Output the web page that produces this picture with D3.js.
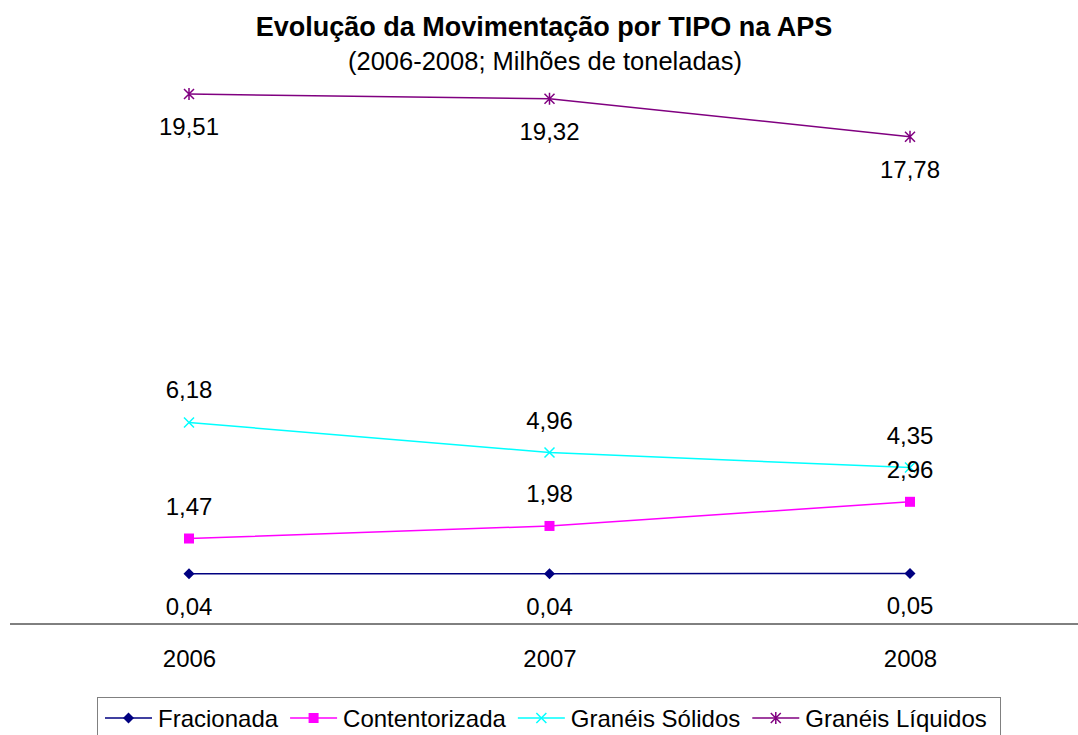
<!DOCTYPE html>
<html>
<head>
<meta charset="utf-8">
<script src="https://cdn.jsdelivr.net/npm/d3@7"></script>
<style>
body { margin: 0; background: #fff; }
text { font-family: "Liberation Sans", Arial, sans-serif; fill: #000; }
</style>
</head>
<body>
<div id="chart"></div>
<script>
var years = ["2006", "2007", "2008"];
var seriesNames = ["Fracionada", "Contentorizada", "Granéis Sólidos", "Granéis Líquidos"];
var fracionada = [0.04, 0.04, 0.05];
var contentorizada = [1.47, 1.98, 2.96];
var solidos = [6.18, 4.96, 4.35];
var liquidos = [19.51, 19.32, 17.78];

var width = 1078, height = 735;

var series = [
    {name: seriesNames[0], values: fracionada, color: "#000080", marker: "diamond", labelPos: "below"},
    {name: seriesNames[1], values: contentorizada, color: "#ff00ff", marker: "square", labelPos: "above"},
    {name: seriesNames[2], values: solidos, color: "#00ffff", marker: "x", labelPos: "above"},
    {name: seriesNames[3], values: liquidos, color: "#800080", marker: "star", labelPos: "below"}
];

var x = d3.scalePoint()
    .domain(years)
    .range([189, 910]);
var y = d3.scaleLinear()
    .domain([-2, 20])
    .range([624, 82]);

var svg = d3.select("#chart").append("svg")
    .attr("width", width)
    .attr("height", height);

svg.append("text")
    .attr("x", 544)
    .attr("y", 36)
    .attr("text-anchor", "middle")
    .attr("font-size", 27)
    .attr("font-weight", "bold")
    .text("Evolução da Movimentação por TIPO na APS");
svg.append("text")
    .attr("x", 545)
    .attr("y", 70)
    .attr("text-anchor", "middle")
    .attr("font-size", 25.5)
    .text("(2006-2008; Milhões de toneladas)");

// category axis sits at the minimum of the hidden value axis
var xAxis = d3.axisBottom(x).tickSize(0).tickPadding(0);
var gx = svg.append("g")
    .attr("transform", "translate(0," + y(-2) + ")")
    .call(xAxis);
gx.select(".domain").remove();
gx.selectAll("text")
    .attr("dy", 43)
    .attr("y", 0)
    .attr("font-size", 24)
    .attr("font-family", "Liberation Sans, Arial, sans-serif");
svg.append("line")
    .attr("x1", 10).attr("x2", width)
    .attr("y1", y(-2)).attr("y2", y(-2))
    .style("stroke", "#000")
    .style("stroke-width", 1);

function drawMarker(g, type, color) {
    if (type == "diamond") {
        g.append("path").attr("d", "M0,-5.5L5.5,0L0,5.5L-5.5,0Z").style("fill", color);
    } else if (type == "square") {
        g.append("rect").attr("x", -5).attr("y", -5).attr("width", 10).attr("height", 10).style("fill", color);
    } else if (type == "x") {
        g.append("path").attr("d", "M-5,-5L5,5M-5,5L5,-5").style("stroke", color).style("stroke-width", 1.5).style("fill", "none");
    } else {
        g.append("path").attr("d", "M-5,-5L5,5M-5,5L5,-5M0,-6L0,6").style("stroke", color).style("stroke-width", 1.5).style("fill", "none");
    }
}

var line = d3.line()
    .x(function(d, i) { return x(years[i]); })
    .y(function(d) { return y(d); });

var fmt = function(v) { return v.toFixed(2).replace(".", ","); };

series.forEach(function(s) {
    svg.append("path")
        .datum(s.values)
        .attr("d", line)
        .style("fill", "none")
        .style("stroke", s.color)
        .style("stroke-width", 1.5);
});

series.forEach(function(s) {
    s.values.forEach(function(v, i) {
        var g = svg.append("g")
            .attr("transform", "translate(" + x(years[i]) + "," + y(v) + ")");
        drawMarker(g, s.marker, s.color);
    });
});

series.forEach(function(s) {
    svg.selectAll(null)
        .data(s.values)
        .enter().append("text")
        .attr("x", function(d, i) { return x(years[i]); })
        .attr("y", function(d) { return s.labelPos == "above" ? y(d) - 24 : y(d) + 41; })
        .attr("text-anchor", "middle")
        .attr("font-size", 24)
        .text(fmt);
});

// legend
var legend = svg.append("g");
legend.append("rect")
    .attr("x", 97.5).attr("y", 697.5)
    .attr("width", 903).attr("height", 50)
    .style("fill", "#fff")
    .style("stroke", "#808080")
    .style("stroke-width", 1);
var lx = 105, ly = 718;
series.forEach(function(s) {
    legend.append("line")
        .attr("x1", lx).attr("x2", lx + 47)
        .attr("y1", ly).attr("y2", ly)
        .style("stroke", s.color)
        .style("stroke-width", 1.5);
    var g = legend.append("g").attr("transform", "translate(" + (lx + 23.5) + "," + ly + ")");
    drawMarker(g, s.marker, s.color);
    var t = legend.append("text")
        .attr("x", lx + 53)
        .attr("y", ly + 8.5)
        .attr("font-size", 24)
        .text(s.name);
    lx = lx + 53 + t.node().getComputedTextLength() + 12;
});
</script>
</body>
</html>
